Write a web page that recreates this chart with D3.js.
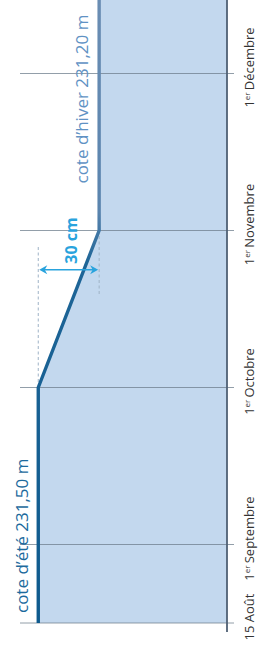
<!DOCTYPE html>
<html>
<head>
<meta charset="utf-8">
<script src="https://cdn.jsdelivr.net/npm/d3@7"></script>
<style>
    body { margin: 0; background: #fff; }
    svg { display: block; }
</style>
</head>
<body>
<div id="diagram"></div>
<script>
(function () {
    'use strict';

    // month position: 8.5 = 15 Aug, 9 = 1 Sep, ... 12 = 1 Dec
    const tickMonths = [8.5, 9, 10, 11, 12];
    const tickLabels = [['15 Août', ''], ['1', 'Septembre'], ['1', 'Octobre'], ['1', 'Novembre'], ['1', 'Décembre']];

    // lake level (m) through the season
    const levelMonths = [8.5, 10, 11, 12.5];
    const levelValues = [231.50, 231.50, 231.20, 231.20];

    const summerLevel = 231.50;
    const winterLevel = 231.20;
    const summerLabel = 'cote d\u2019été 231,50 m';
    const winterLabel = 'cote d\u2019hiver 231,20 m';
    const diffLabel = '30 cm';

    const width = 258;
    const height = 658;

    const y = d3.scaleLinear().domain([8.5, 12.5]).range([623, -5]);
    const x = d3.scaleLinear().domain([231.59, 230.57]).range([20, 227]);
    const xRight = x.range()[1];

    const data = levelMonths.map((m, i) => ({ m: m, level: levelValues[i] }));

    const svg = d3.select('div#diagram').append('svg')
        .attr('width', width)
        .attr('height', height)
        .attr('viewBox', [0, 0, width, height]);

    const defs = svg.append('defs');
    const grad = defs.append('linearGradient')
        .attr('id', 'lineGrad')
        .attr('gradientUnits', 'userSpaceOnUse')
        .attr('x1', 0).attr('x2', 0)
        .attr('y1', y(8.5)).attr('y2', 0);
    grad.append('stop').attr('offset', 0).attr('stop-color', '#0e5a8d');
    grad.append('stop').attr('offset', 0.58).attr('stop-color', '#1e6597');
    grad.append('stop').attr('offset', 0.66).attr('stop-color', '#5a84ae');
    grad.append('stop').attr('offset', 1).attr('stop-color', '#6a8db3');

    // water
    svg.append('path')
        .datum(data)
        .attr('fill', '#c3d8ee')
        .attr('d', d3.area()
            .y(d => y(d.m))
            .x0(d => x(d.level))
            .x1(xRight));

    // grid lines
    svg.append('g')
        .selectAll('line')
        .data(tickMonths)
        .join('line')
        .attr('x1', x.range()[0])
        .attr('x2', xRight + 7)
        .attr('y1', d => y(d))
        .attr('y2', d => y(d))
        .attr('stroke', '#6d7d8c')
        .attr('stroke-opacity', 0.75)
        .attr('stroke-width', 1);

    // right axis
    svg.append('line')
        .attr('x1', xRight).attr('x2', xRight)
        .attr('y1', 0).attr('y2', y(8.5) + 9)
        .attr('stroke', '#4f6074')
        .attr('stroke-width', 1.8);

    // dashed reference lines
    svg.append('line')
        .attr('x1', x(summerLevel)).attr('x2', x(summerLevel))
        .attr('y1', y(10)).attr('y2', y(10.9))
        .attr('stroke', '#9fb3c6')
        .attr('stroke-width', 1)
        .attr('stroke-dasharray', '3,2.5');
    svg.append('line')
        .attr('x1', x(winterLevel)).attr('x2', x(winterLevel))
        .attr('y1', y(11)).attr('y2', y(10.58))
        .attr('stroke', '#9fb3c6')
        .attr('stroke-width', 1)
        .attr('stroke-dasharray', '3,2.5');

    // level line
    svg.append('path')
        .datum(data)
        .attr('fill', 'none')
        .attr('stroke', 'url(#lineGrad)')
        .attr('stroke-width', 3.4)
        .attr('stroke-linejoin', 'round')
        .attr('d', d3.line()
            .y(d => y(d.m))
            .x(d => x(d.level)));

    // 30 cm arrow
    const arrowY = y(10.75);
    const ax0 = x(summerLevel) + 1;
    const ax1 = x(winterLevel) - 1;
    const cyan = '#29a3dd';
    svg.append('line')
        .attr('x1', ax0 + 3).attr('x2', ax1 - 3)
        .attr('y1', arrowY).attr('y2', arrowY)
        .attr('stroke', cyan)
        .attr('stroke-width', 1.6);
    svg.append('path')
        .attr('fill', cyan)
        .attr('d', `M${ax0},${arrowY} l8,-4.5 l-2.5,4.5 l2.5,4.5 Z M${ax1},${arrowY} l-8,-4.5 l2.5,4.5 l-2.5,4.5 Z`);

    svg.append('text')
        .attr('transform', `translate(${(ax0 + ax1) / 2 + 8},${arrowY - 6}) rotate(-90)`)
        .attr('font-family', '"Open Sans", sans-serif')
        .attr('font-weight', 700)
        .attr('font-size', 16)
        .attr('fill', cyan)
        .text(diffLabel);

    // level labels
    svg.append('text')
        .attr('transform', `translate(${x(summerLevel) - 10},${y(8.5) - 10}) rotate(-90)`)
        .attr('font-family', '"Open Sans", sans-serif')
        .attr('font-size', 17)
        .attr('fill', '#1c6a9d')
        .text(summerLabel);

    svg.append('text')
        .attr('transform', `translate(${x(winterLevel) - 11},${y(11) - 47}) rotate(-90)`)
        .attr('font-family', '"Open Sans", sans-serif')
        .attr('font-size', 17)
        .attr('fill', '#5f92c4')
        .text(winterLabel);

    // date labels
    const dl = svg.append('g')
        .attr('font-family', '"Open Sans", sans-serif')
        .attr('font-size', 13)
        .attr('fill', '#333')
        .selectAll('text')
        .data(tickMonths)
        .join('text')
        .attr('text-anchor', 'middle')
        .attr('transform', d => `translate(${xRight + 27},${y(d) - 6}) rotate(-90)`);

    dl.each(function (d, i) {
        const t = d3.select(this);
        const lab = tickLabels[i];
        if (lab[1] === '') {
            t.text(lab[0]);
            return;
        }
        t.append('tspan').text(lab[0]);
        t.append('tspan')
            .attr('font-size', 8)
            .attr('dy', -4.5)
            .text('er');
        t.append('tspan')
            .attr('dy', 4.5)
            .text('\u2009' + lab[1]);
    });
})();
</script>
</body>
</html>
